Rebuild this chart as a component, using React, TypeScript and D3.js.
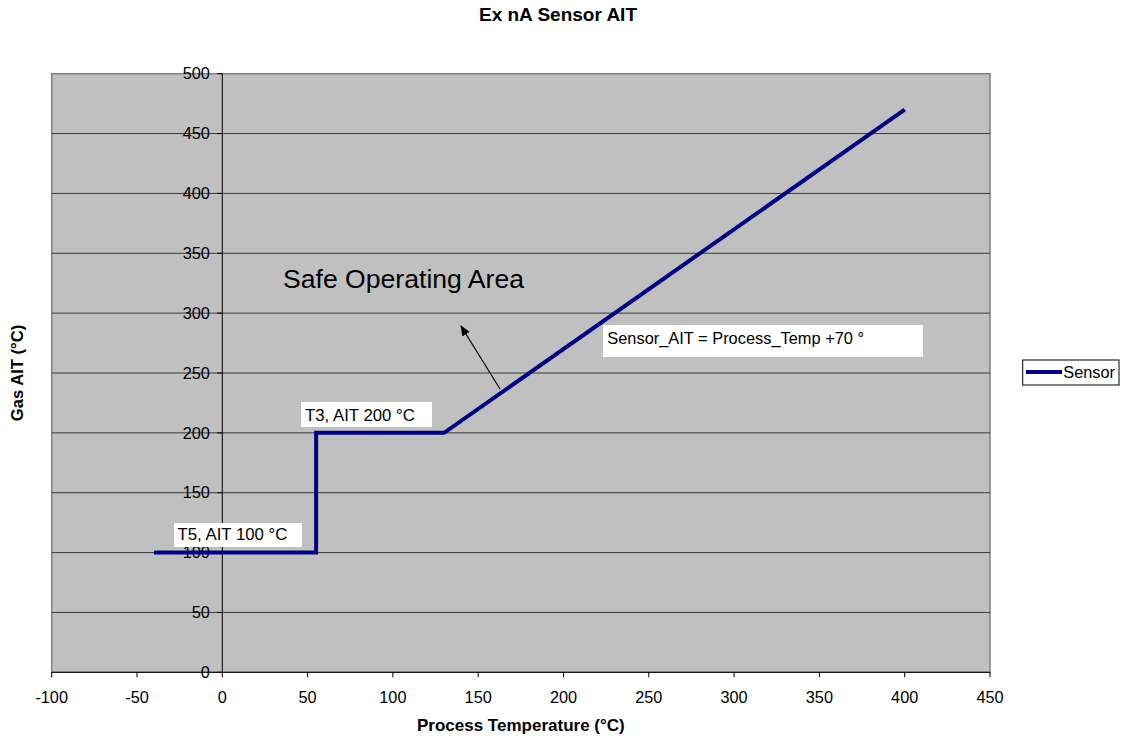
import React from "react";
import * as d3 from "d3";

const processTemp = [-40, 55, 55, 130, 400];
const sensorAIT = [100, 100, 200, 200, 470];
const xTicks = [-100, -50, 0, 50, 100, 150, 200, 250, 300, 350, 400, 450];
const yTicks = [0, 50, 100, 150, 200, 250, 300, 350, 400, 450, 500];
const seriesName = "Sensor";
const title = "Ex nA Sensor AIT";
const xTitle = "Process Temperature (°C)";
const yTitle = "Gas AIT (°C)";

const W = 1127, H = 740;
const L = 51.7, R = 990, T = 73.7, B = 672.3;
const font = "'Liberation Sans', Arial, sans-serif";

export default function App() {
  const x = d3.scaleLinear().domain([-100, 450]).range([L, R]);
  const y = d3.scaleLinear().domain([0, 500]).range([B, T]);
  const pts = processTemp.map((v, i) => [v, sensorAIT[i]] as [number, number]);
  const line = d3.line<[number, number]>().x(d => x(d[0])).y(d => y(d[1]));

  return (
    <svg width={W} height={H} style={{ position: "absolute", left: 0, top: 0, background: "#fff" }} fontFamily={font}>
      <defs>
        <marker id="ah" viewBox="0 0 10 10" refX="9" refY="5" markerWidth="9" markerHeight="9" orient="auto">
          <path d="M0,1 L10,5 L0,9 z" fill="#000" />
        </marker>
      </defs>
      <text x={558} y={20.5} textAnchor="middle" fontWeight="bold" fontSize={19}>{title}</text>
      <rect x={L} y={T} width={R - L} height={B - T} fill="#C0C0C0" stroke="#808080" strokeWidth={1.5} />
      {yTicks.filter(t => t > 0 && t < 500).map(t => (
        <line key={"g" + t} x1={L} x2={R} y1={y(t)} y2={y(t)} stroke="#3a3a3a" strokeWidth={1} />
      ))}
      <line x1={x(0)} x2={x(0)} y1={T} y2={B} stroke="#000" strokeWidth={1} />
      {yTicks.map(t => (
        <g key={"y" + t}>
          <line x1={x(0) - 5} x2={x(0)} y1={y(t)} y2={y(t)} stroke="#000" />
          <text x={x(0) - 12.5} y={y(t)} dy="0.35em" textAnchor="end" fontSize={16.3}>{t}</text>
        </g>
      ))}
      <line x1={L} x2={R} y1={y(0)} y2={y(0)} stroke="#000" strokeWidth={1} />
      {xTicks.map(t => (
        <g key={"x" + t}>
          <line x1={x(t)} x2={x(t)} y1={y(0)} y2={y(0) + 5} stroke="#000" />
          <text x={x(t)} y={697} dy="0.35em" textAnchor="middle" fontSize={16.3}>{t}</text>
        </g>
      ))}
      <text x={(L + R) / 2} y={731} textAnchor="middle" fontWeight="bold" fontSize={17}>{xTitle}</text>
      <text transform={`translate(23,${(T + B) / 2}) rotate(-90)`} textAnchor="middle" fontWeight="bold" fontSize={16.6}>{yTitle}</text>

      <path d={line(pts) || ""} fill="none" stroke="#000080" strokeWidth={4} strokeLinejoin="miter" />

      <rect x={174} y={523} width={128} height={24} fill="#fff" />
      <text x={177.5} y={540} fontSize={16.8}>T5, AIT 100 °C</text>
      <rect x={301} y={402} width={131} height={25} fill="#fff" />
      <text x={305} y={420.5} fontSize={16.8}>T3, AIT 200 °C</text>
      <rect x={603} y={325} width={320} height={32} fill="#fff" />
      <text x={607.3} y={344} fontSize={16.4}>Sensor_AIT = Process_Temp +70 °</text>
      <text x={283} y={288.3} fontSize={26.6}>Safe Operating Area</text>
      <line x1={500} y1={389} x2={461} y2={326} stroke="#000" strokeWidth={1.2} markerEnd="url(#ah)" />

      <rect x={1022.7} y={360} width={96.3} height={25} fill="#fff" stroke="#000" strokeWidth={1} />
      <line x1={1026} x2={1062} y1={372} y2={372} stroke="#000080" strokeWidth={4} />
      <text x={1063.3} y={377.7} fontSize={16.3}>{seriesName}</text>
    </svg>
  );
}
